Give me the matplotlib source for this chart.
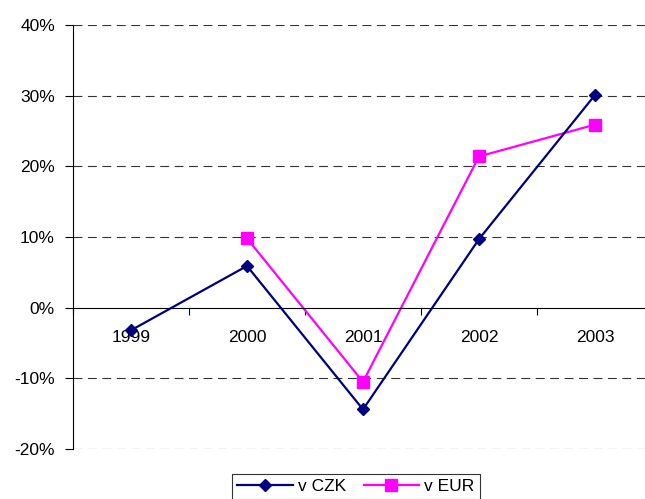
import matplotlib.pyplot as plt
from matplotlib.ticker import FixedLocator, PercentFormatter

# data
years = ['1999', '2000', '2001', '2002', '2003']
czk = [-3.2, 5.9, -14.4, 9.7, 30.1]
eur = [None, 9.8, -10.5, 21.4, 25.9]

plt.rcParams['font.family'] = ['Liberation Sans', 'DejaVu Sans']
plt.rcParams['axes.unicode_minus'] = False

fig = plt.figure(figsize=(6.45, 4.99), dpi=100)
ax = fig.add_axes([73 / 645, 1 - 449 / 499, 1 - 73 / 645, (449 - 25) / 499])

x = list(range(len(years)))
ax.plot(x, czk, color='#000080', lw=1.6, marker='D', ms=6.5, label='v CZK', zorder=3)
eur_x = [i for i, v in zip(x, eur) if v is not None]
eur_y = [v for v in eur if v is not None]
ax.plot(eur_x, eur_y, color='#FF00FF', lw=1.6, marker='s', ms=8, label='v EUR', zorder=2)

ax.set_ylim(-20, 40)
ax.set_xlim(-0.5, -0.5 + 572 / 116)
ax.set_yticks(range(-20, 41, 10))
ax.yaxis.set_major_formatter(PercentFormatter(decimals=0))
ax.tick_params(axis='y', length=6, width=0.8, labelsize=12.5, pad=7)

for v in range(-20, 41, 10):
    if v != 0:
        ax.axhline(v, color='#333333', lw=0.8, ls=(0, (8, 5)), zorder=1)

for s in ['top', 'right']:
    ax.spines[s].set_visible(False)
ax.spines['left'].set_linewidth(0.8)
ax.spines['bottom'].set_position(('data', 0))
ax.spines['bottom'].set_linewidth(0.8)

ax.set_xticks(x)
ax.set_xticklabels(years)
ax.tick_params(axis='x', length=0, labelsize=12.5, pad=16)
ax.xaxis.set_minor_locator(FixedLocator([i + 0.5 for i in range(-1, 5)]))
ax.tick_params(axis='x', which='minor', length=5, width=0.8, direction='out')

leg = fig.legend(loc='lower center', bbox_to_anchor=(356 / 645, -0.018), ncol=2,
                 fontsize=12.5, frameon=True, fancybox=False, edgecolor='black',
                 handlelength=3.2, handletextpad=0.3, columnspacing=1.0,
                 borderpad=0.3)
leg.get_frame().set_linewidth(0.8)

fig.savefig('out.png', dpi=100)
